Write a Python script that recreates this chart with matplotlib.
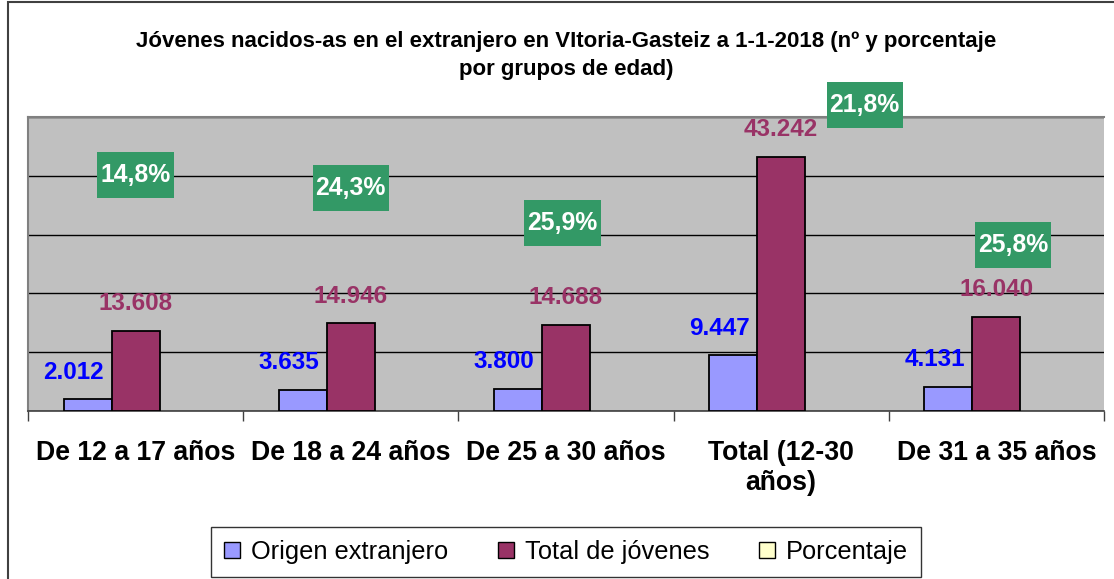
import matplotlib
matplotlib.use("Agg")
import matplotlib.pyplot as plt
from matplotlib.patches import Rectangle, Patch
import numpy as np

plt.rcParams['font.family'] = ['Liberation Sans', 'DejaVu Sans']

categories = ["De 12 a 17 años", "De 18 a 24 años", "De 25 a 30 años",
              "Total (12-30\naños)", "De 31 a 35 años"]
origen_extranjero = [2012, 3635, 3800, 9447, 4131]
total_jovenes = [13608, 14946, 14688, 43242, 16040]
porcentaje = [14.8, 24.3, 25.9, 21.8, 25.8]

def fmt_int(v):
    return f"{v:,}".replace(",", ".")

def fmt_pct(v):
    return f"{v:.1f}%".replace(".", ",")

W, H = 1114, 579
fig = plt.figure(figsize=(W / 100, H / 100), dpi=100)

# outer chart border (top / left visible)
fig.patches.append(Rectangle((8 / W, -0.1), 1.2, 1.1 - 2 / H, transform=fig.transFigure,
                             fill=False, edgecolor="#404040", linewidth=1.5))

ax = fig.add_axes([28 / W, (H - 411) / H, (1104 - 28) / W, 294 / H])
ax.set_facecolor("#C0C0C0")

x = np.arange(len(categories))
bw = 0.2233
ax.bar(x - bw, origen_extranjero, bw, color="#9999FF", edgecolor="black", linewidth=1.3, zorder=3)
ax.bar(x, total_jovenes, bw, color="#993366", edgecolor="black", linewidth=1.3, zorder=3)

ax.set_ylim(0, 50000)
ax.set_xlim(-0.5, len(categories) - 0.5)
ax.set_yticks(np.arange(0, 50001, 10000))
ax.yaxis.grid(True, color="black", linewidth=1.0, zorder=1)
ax.set_axisbelow(True)
ax.tick_params(axis="y", left=False, labelleft=False)

ax.set_xticks(x)
ax.set_xticklabels(categories, fontsize=19.2, fontweight="bold", linespacing=1.2)
ax.tick_params(axis="x", length=0, pad=21)
ax.set_xticks(np.arange(-0.5, len(categories), 1), minor=True)
ax.tick_params(axis="x", which="minor", length=7, width=1, color="#404040", direction="out")

for side in ["left", "top", "right"]:
    ax.spines[side].set_color("#808080")
    ax.spines[side].set_linewidth(1.5)
ax.spines["right"].set_visible(False)
ax.spines["bottom"].set_color("#404040")
ax.spines["bottom"].set_linewidth(1.2)

# value labels
for i in range(len(categories)):
    ax.annotate(fmt_int(origen_extranjero[i]), (x[i] - bw, origen_extranjero[i]),
                xytext=(-10, 19.5), textcoords="offset points", ha="center", va="center",
                fontsize=17.5, fontweight="bold", color="#0000FF", zorder=5)
    ax.annotate(fmt_int(total_jovenes[i]), (x[i], total_jovenes[i]),
                xytext=(0, 19.5), textcoords="offset points", ha="center", va="center",
                fontsize=17.5, fontweight="bold", color="#993366", zorder=5)

# percentage label placement (manual, as in the original chart)
pct_dx = [0.0, 0.0, -0.016, 0.388, 0.077]
pct_y = [40136, 37925, 31973, 51956, 28231]
pct_texts = []
for i in range(len(categories)):
    t = ax.text(x[i] + pct_dx[i], pct_y[i], fmt_pct(porcentaje[i]), ha="center", va="center",
                fontsize=17.8, fontweight="bold", color="white", zorder=8, clip_on=False)
    pct_texts.append(t)

fig.text(566 / W, 1 - 42 / H, "Jóvenes nacidos-as en el extranjero en VItoria-Gasteiz a 1-1-2018 (nº y porcentaje",
         ha="center", va="center", fontsize=16.0, fontweight="bold")
fig.text(566 / W, 1 - 69 / H, "por grupos de edad)",
         ha="center", va="center", fontsize=16.0, fontweight="bold")

handles = [Patch(facecolor="#9999FF", edgecolor="black", label="Origen extranjero"),
           Patch(facecolor="#993366", edgecolor="black", label="Total de jóvenes"),
           Patch(facecolor="#FFFFCC", edgecolor="black", label="Porcentaje")]
leg = fig.legend(handles=handles, loc="center", bbox_to_anchor=(566 / W, 1 - 552 / H), ncol=3,
                 fontsize=18.3, frameon=True, fancybox=False, edgecolor="black",
                 handlelength=0.64, handleheight=0.64, handletextpad=0.42, columnspacing=1.95,
                 borderpad=0.52, borderaxespad=0)
leg.get_frame().set_linewidth(1.0)

# green boxes behind percentage labels
fig.canvas.draw()
r = fig.canvas.get_renderer()
inv = ax.transAxes.inverted()
for t in pct_texts:
    bb = t.get_window_extent(r)
    cx = (bb.x0 + bb.x1) / 2
    cy = (bb.y0 + bb.y1) / 2
    bw_px = bb.width + 6
    bh_px = 46
    (x0, y0) = inv.transform((cx - bw_px / 2, cy - bh_px / 2))
    (x1, y1) = inv.transform((cx + bw_px / 2, cy + bh_px / 2))
    rect = Rectangle((x0, y0), x1 - x0, y1 - y0, transform=ax.transAxes,
                     facecolor="#339966", edgecolor="none", zorder=7, clip_on=False)
    ax.add_patch(rect)

fig.savefig("out.png", dpi=100)
